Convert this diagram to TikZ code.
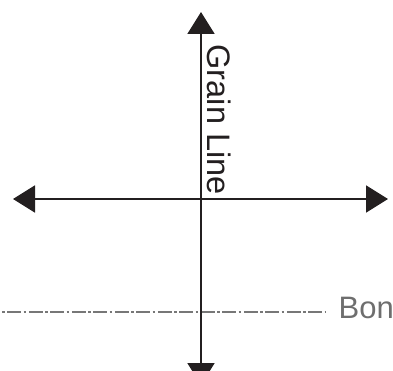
\documentclass[tikz,border=0pt]{standalone}
\usepackage{fontspec}
\setmainfont{Liberation Sans}
\usetikzlibrary{arrows.meta}
\definecolor{ink}{HTML}{231F20}
\definecolor{grayline}{HTML}{777777}
\definecolor{graytext}{HTML}{6E6E6E}
\begin{document}
\begin{tikzpicture}[x=1pt,y=-1pt,
  axis/.style={draw=ink,line width=2pt,
    arrows={Triangle[length=22pt,width=27pt,fill=ink]-Triangle[length=22pt,width=27pt,fill=ink]}},
  boneline/.style={draw=grayline,line width=1.6pt,dash pattern=on 2.8pt off 2.5pt on 14pt off 2.2pt},
  lbl/.style={inner sep=0pt,font=\fontsize{32.5}{38}\selectfont}]
\useasboundingbox (0,0) rectangle (393,371);
\coordinate (top) at (201,12);
\coordinate (bottom) at (201,385);
\coordinate (left) at (13,199);
\coordinate (right) at (388,199);
\coordinate (bstart) at (2,311.8);
\coordinate (bend) at (326,311.8);
\draw[boneline] (bstart) -- (bend);
\draw[axis] (bottom) -- (top);
\draw[axis] (left) -- (right);
\node[lbl,text=ink,rotate=-90,anchor=base west] (grain) at (207,44.5) {Grain Line};
\node[lbl,text=graytext,anchor=base west,font=\fontsize{31}{36}\selectfont] (bon) at (338.5,318.5) {Bon};
\end{tikzpicture}
\end{document}
